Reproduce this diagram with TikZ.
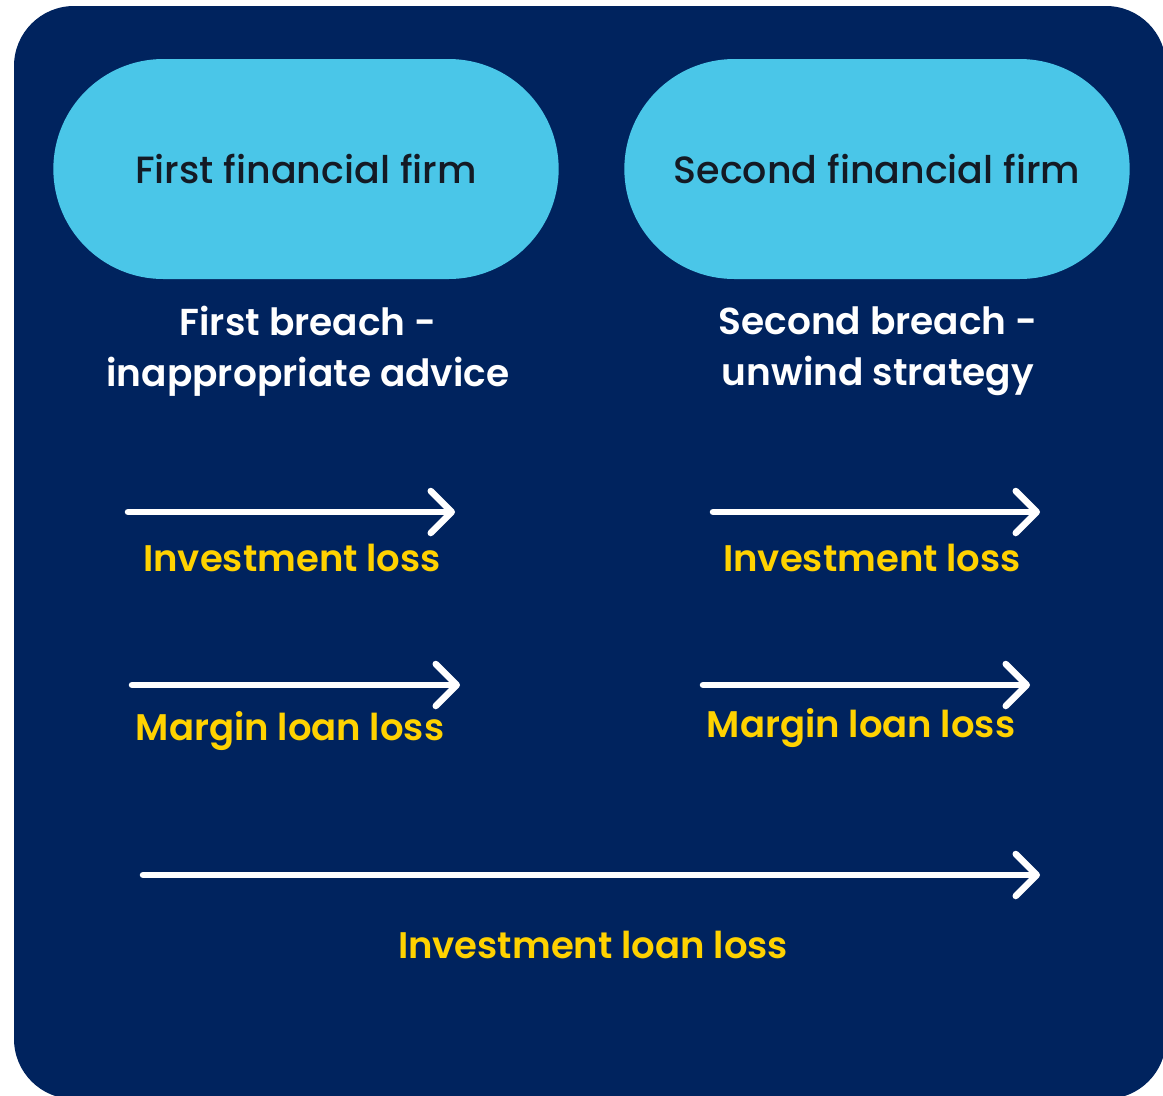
\documentclass[tikz,border=0pt]{standalone}
\usepackage{fontspec}
\setmainfont{Poppins}[UprightFont=* Medium, BoldFont=* SemiBold]
\usetikzlibrary{arrows.meta, shapes.misc}
\definecolor{panel-navy}{HTML}{00235E}
\definecolor{firm-cyan}{HTML}{4AC6E8}
\definecolor{loss-gold}{HTML}{FFD200}
\definecolor{ink}{HTML}{141A24}

\begin{document}
\begin{tikzpicture}[x=1pt, y=-1pt,
    firm/.style={rounded rectangle, fill=firm-cyan, minimum width=512pt,
      minimum height=220pt, text=ink, font=\fontsize{38}{44}\selectfont},
    breach/.style={text=white, align=center,
      font=\fontsize{37.5}{51}\selectfont\bfseries},
    loss/.style={text=loss-gold, font=\fontsize{37}{42}\selectfont\bfseries},
    flow/.style={white, line width=6.5pt, line cap=round,
      -{Straight Barb[length=21pt, width=42pt, line cap=round, line join=round]}}]
    \useasboundingbox (0, 0) rectangle (1163, 1096);
    \fill[panel-navy, rounded corners=60pt] (14, 6) rectangle (1166, 1099);

    % the two firms
    \node[firm] (f1) at (306, 169) {First financial firm};
    \node[firm] (f2) at (877, 169) {Second financial firm};
    \node[breach] (b1) at (308, 351) {First breach -\\inappropriate advice};
    \node[breach] (b2) at (878, 351) {Second breach -\\unwind strategy};

    % losses under each breach
    \coordinate (i1a) at (128, 512);
    \coordinate (i1b) at (455, 512);
    \coordinate (i2a) at (713, 512);
    \coordinate (i2b) at (1040, 512);
    \coordinate (m1a) at (132, 685);
    \coordinate (m1b) at (460, 685);
    \coordinate (m2a) at (703, 685);
    \coordinate (m2b) at (1030, 685);
    \coordinate (lna) at (143, 875);
    \coordinate (lnb) at (1040, 875);
    \draw[flow] (i1a) -- (i1b);
    \draw[flow] (i2a) -- (i2b);
    \draw[flow] (m1a) -- (m1b);
    \draw[flow] (m2a) -- (m2b);
    \draw[flow] (lna) -- (lnb);
    \node[loss] (il1) at (292, 558) {Investment loss};
    \node[loss] (il2) at (872, 558) {Investment loss};
    \node[loss] (ml1) at (290, 731) {Margin loan loss};
    \node[loss] (ml2) at (861, 728) {Margin loan loss};
    \node[loss] (ln) at (593, 945) {Investment loan loss};
  \end{tikzpicture}
\end{document}
